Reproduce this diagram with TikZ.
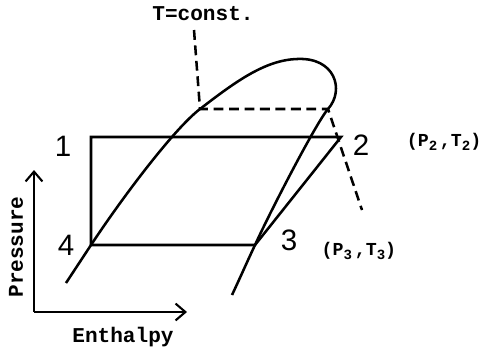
\documentclass[tikz,border=0pt]{standalone}
\usepackage{fontspec}
\setmainfont{Liberation Sans}
\newfontfamily\typefont{Liberation Mono}
\usetikzlibrary{arrows.meta,positioning}
\newcommand{\lowsub}[1]{\raisebox{-0.35ex}{\fontsize{10}{11}\selectfont #1}}
\tikzset{
  curve/.style={line width=1.8pt},
  isotherm/.style={line width=1.8pt, dash pattern=on 7pt off 4pt},
  axis/.style={line width=1.5pt, -{Straight Barb[length=7pt,width=12pt,line width=1.5pt]}},
  statelabel/.style={font=\fontsize{21}{23}\selectfont},
  typelabel/.style={font=\typefont\bfseries\fontsize{15}{17}\selectfont},
  pointlabel/.style={font=\typefont\bfseries\fontsize{13}{15}\selectfont, inner sep=1pt}
}
\begin{document}
\begin{tikzpicture}[x=0.025cm,y=-0.025cm]
\useasboundingbox (0,0) rectangle (484,350);
\coordinate (p1) at (91,137);
\coordinate (p2) at (341,137);
\coordinate (p3) at (255,245);
\coordinate (p4) at (91,245);
\coordinate (origin) at (34,312);
\coordinate (ptop) at (34,170);
\coordinate (hend) at (187,312);
\coordinate (tstart) at (194,30);
\coordinate (tleft) at (200,109);
\coordinate (tright) at (328,109);
\coordinate (tend) at (362,210);
\coordinate (dometop) at (297,59);
\coordinate (liqend) at (66,283);
\coordinate (vapend) at (232,295);

\draw[axis] (origin) -- (ptop);
\draw[axis] (origin) -- (hend);
\node[typelabel, rotate=90] (pressure) at (16,247) {Pressure};
\node[typelabel] (enthalpy) at (123,337) {Enthalpy};

\draw[curve] (liqend) -- (p4)
  .. controls (124,195) and (175,128) .. (tleft)
  .. controls (235,82) and (265,60) .. (dometop)
  .. controls (335,57) and (345,90) .. (tright)
  .. controls (316,123) and (270,212) .. (p3)
  .. controls (247,262) and (240,278) .. (vapend);

\draw[curve] (p4) -- (p1) -- (p2) -- (p3) -- (p4);

\draw[isotherm] (tstart) -- (tleft) -- (tright) -- (tend);

\node[typelabel] (tconst) at (203,14) {T=const.};
\node[statelabel] (l1) at (63,146) {1};
\node[statelabel] (l2) at (361,145) {2};
\node[statelabel] (l3) at (289,240) {3};
\node[statelabel] (l4) at (66,245) {4};
\node[pointlabel, anchor=east] (s2) at (483,142) {(P\lowsub{2}\hspace{0.15em},T\lowsub{2})};
\node[pointlabel, anchor=west] (s3) at (320,251) {(P\lowsub{3}\hspace{0.15em},T\lowsub{3})};
\end{tikzpicture}
\end{document}
